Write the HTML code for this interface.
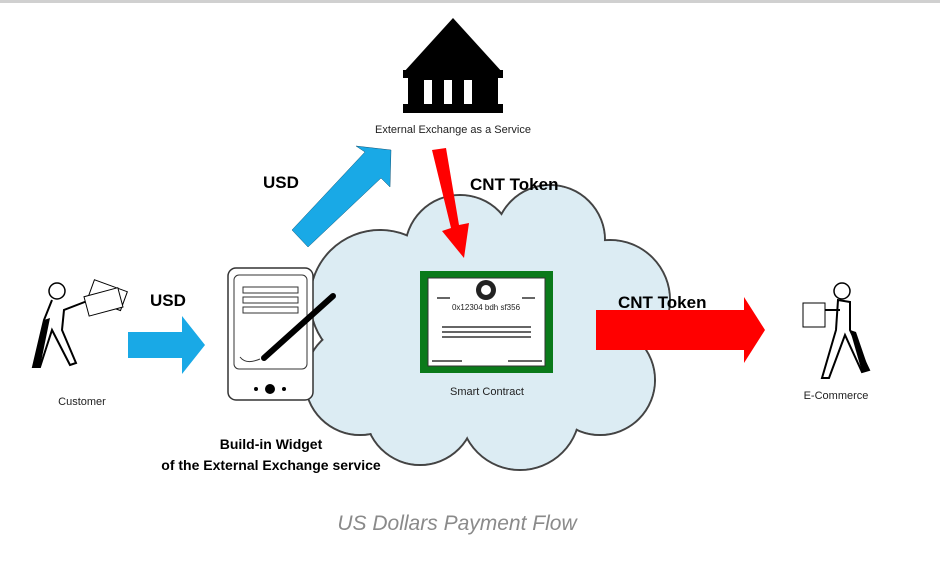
<!DOCTYPE html>
<html><head><meta charset="utf-8"><style>
body{margin:0;background:#fff;width:940px;height:567px;overflow:hidden;font-family:"Liberation Sans",sans-serif;}
</style></head><body>
<svg width="940" height="567" viewBox="0 0 940 567" xmlns="http://www.w3.org/2000/svg" font-family="Liberation Sans, sans-serif">
<rect x="0" y="0" width="940" height="3" fill="#d0d0d0"/>
<!-- bank -->
<polygon points="453,18 403,73 503,73" fill="#000"/>
<rect x="403" y="70" width="100" height="8" fill="#000"/>
<rect x="408" y="78" width="90" height="26" fill="#000"/>
<rect x="424" y="80" width="8" height="24" fill="#fff"/>
<rect x="444" y="80" width="8" height="24" fill="#fff"/>
<rect x="464" y="80" width="8" height="24" fill="#fff"/>
<rect x="403" y="104" width="100" height="9" fill="#000"/>
<text x="453" y="133" font-size="11" text-anchor="middle" fill="#222">External Exchange as a Service</text>
<!-- cloud -->
<g stroke="#444" stroke-width="2" fill="#dcecf3">
<circle cx="380" cy="300" r="70"/><circle cx="460" cy="250" r="55"/><circle cx="550" cy="240" r="55"/>
<circle cx="610" cy="300" r="60"/><circle cx="600" cy="380" r="55"/><circle cx="520" cy="410" r="60"/>
<circle cx="420" cy="410" r="55"/><circle cx="360" cy="380" r="55"/>
</g>
<g fill="#dcecf3">
<circle cx="380" cy="300" r="69"/><circle cx="460" cy="250" r="54"/><circle cx="550" cy="240" r="54"/>
<circle cx="610" cy="300" r="59"/><circle cx="600" cy="380" r="54"/><circle cx="520" cy="410" r="59"/>
<circle cx="420" cy="410" r="54"/><circle cx="360" cy="380" r="54"/>
<rect x="380" y="280" width="220" height="130"/>
</g>
<!-- blue diagonal arrow -->
<polygon points="292,230 365,152 356,146 391,150 390,187 381,178 308,247" fill="#19a9e6" stroke="#157" stroke-width="0.5"/>
<text x="263" y="188" font-size="17" font-weight="bold">USD</text>
<!-- red down arrow -->
<polygon points="432,150 446,148 459,225 469,223 464,258 442,231 451,228" fill="#f00"/>
<text x="470" y="190" font-size="17" font-weight="bold">CNT Token</text>
<!-- certificate -->
<rect x="420" y="271" width="133" height="102" fill="#0a7a1a"/>
<rect x="428" y="278" width="117" height="88" fill="#fff" stroke="#333"/>
<circle cx="486" cy="290" r="10" fill="#222"/><circle cx="486" cy="290" r="5" fill="#fff"/>
<text x="486" y="310" font-size="8" text-anchor="middle" fill="#222">0x12304 bdh sf356</text>
<g stroke="#333" stroke-width="1.5"><line x1="442" y1="327" x2="531" y2="327"/><line x1="442" y1="332" x2="531" y2="332"/><line x1="442" y1="337" x2="531" y2="337"/>
<line x1="432" y1="361" x2="462" y2="361"/><line x1="508" y1="361" x2="542" y2="361"/><line x1="437" y1="298" x2="450" y2="298"/><line x1="522" y1="298" x2="535" y2="298"/></g>
<text x="487" y="395" font-size="11" text-anchor="middle" fill="#222">Smart Contract</text>
<!-- red right arrow -->
<polygon points="596,310 744,310 744,297 765,330 744,363 744,350 596,350" fill="#f00"/>
<text x="618" y="308" font-size="17" font-weight="bold">CNT Token</text>
<!-- phone -->
<rect x="228" y="268" width="85" height="132" rx="8" fill="#fff" stroke="#333" stroke-width="1.5"/>
<rect x="234" y="275" width="73" height="94" rx="5" fill="#fff" stroke="#333"/>
<rect x="243" y="287" width="55" height="6" fill="#fff" stroke="#333"/>
<rect x="243" y="297" width="55" height="6" fill="#fff" stroke="#333"/>
<rect x="243" y="307" width="55" height="6" fill="#fff" stroke="#333"/>
<circle cx="270" cy="389" r="5" fill="#000"/><circle cx="256" cy="389" r="2" fill="#000"/><circle cx="284" cy="389" r="2" fill="#000"/>
<line x1="333" y1="296" x2="264" y2="358" stroke="#000" stroke-width="6" stroke-linecap="round"/>
<path d="M240 357 q6 8 20 2" stroke="#333" fill="none"/>
<text x="271" y="449" font-size="14" font-weight="bold" text-anchor="middle">Build-in Widget</text>
<text x="271" y="470" font-size="14" font-weight="bold" text-anchor="middle">of the External Exchange service</text>
<!-- blue right arrow -->
<polygon points="128,332 182,332 182,316 205,345 182,374 182,358 128,358" fill="#19a9e6"/>
<text x="150" y="306" font-size="17" font-weight="bold">USD</text>
<!-- customer -->
<circle cx="57" cy="291" r="8" fill="#fff" stroke="#000" stroke-width="1.5"/>
<path d="M52 300 L44 320 L33 367 L40 367 L52 330 L70 365 L76 363 L62 330 L64 310 L95 298" stroke="#000" stroke-width="2" fill="none"/>
<polygon points="44,320 50,318 40,367 33,367" fill="#000"/>
<rect x="90" y="285" width="35" height="20" fill="#fff" stroke="#000" transform="rotate(20 107 295)"/>
<rect x="86" y="292" width="35" height="20" fill="#fff" stroke="#000" transform="rotate(-15 103 302)"/>
<text x="82" y="405" font-size="11" text-anchor="middle" fill="#222">Customer</text>
<!-- e-commerce -->
<circle cx="842" cy="291" r="8" fill="#fff" stroke="#000" stroke-width="1.5"/>
<path d="M838 300 L836 330 L822 378 L829 378 L845 335 L862 372 L869 370 L850 330 L850 302 Z" stroke="#000" stroke-width="2" fill="#fff"/>
<polygon points="850,330 856,332 869,370 862,372" fill="#000"/>
<rect x="803" y="303" width="22" height="24" fill="#fff" stroke="#000"/>
<line x1="825" y1="310" x2="840" y2="310" stroke="#000" stroke-width="2"/>
<text x="836" y="399" font-size="11" text-anchor="middle" fill="#222">E-Commerce</text>
<text x="457" y="530" font-size="21" font-style="italic" text-anchor="middle" fill="#8a8a8a">US Dollars Payment Flow</text>
</svg>
</body></html>
